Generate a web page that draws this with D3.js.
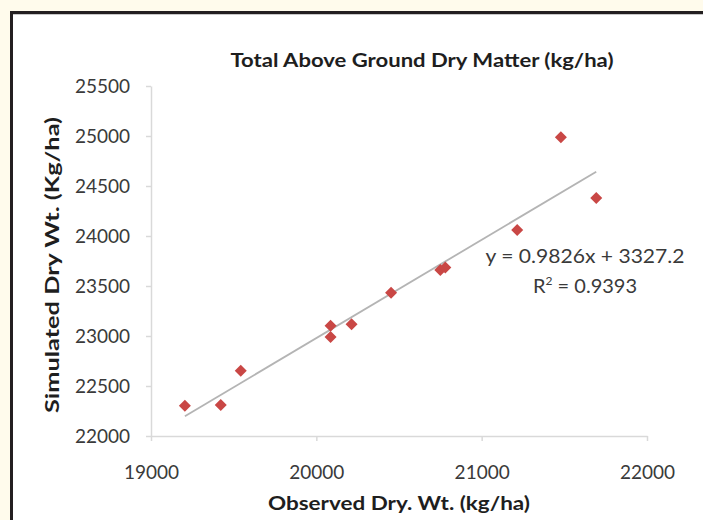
<!DOCTYPE html>
<html lang="en">
  <head>
    <meta charset="UTF-8" />
    <title>Total Above Ground Dry Matter</title>
    <script src="https://d3js.org/d3.v7.min.js" charset="utf-8"></script>
    <style>
      body { margin: 0; background: #fffbec; }
      svg text { font-family: Lato, "Liberation Sans", sans-serif; }
    </style>
  </head>
  <body>
    <div id="chart"></div>
    <script>
      // observed (x) vs simulated (y), kg/ha
      const observed = [19205, 19422, 19543, 20086, 20086, 20213, 20452, 20750, 20780, 21215, 21479, 21693];
      const simulated = [22303, 22310, 22653, 22990, 23103, 23117, 23433, 23660, 23685, 24060, 24987, 24380];
      const xTicks = [19000, 20000, 21000, 22000];
      const yTicks = [22000, 22500, 23000, 23500, 24000, 24500, 25000, 25500];
      const slope = 0.9826;
      const intercept = 3327.2;
      const r2 = 0.9393;

      const width = 703;
      const height = 520;

      const svg = d3.select("#chart")
        .append("svg")
        .attr("width", width)
        .attr("height", height);

      // cream page + white panel with dark frame on top/left
      svg.append("rect")
        .attr("width", width).attr("height", height)
        .attr("fill", "#fffbec");
      svg.append("rect")
        .attr("x", 10).attr("y", 11)
        .attr("width", width - 10).attr("height", height - 11)
        .attr("fill", "#231f20");
      svg.append("rect")
        .attr("x", 13).attr("y", 14)
        .attr("width", width - 13).attr("height", height - 14)
        .attr("fill", "#c8c8c8");
      svg.append("rect")
        .attr("x", 13).attr("y", 15)
        .attr("width", width - 13).attr("height", height - 15)
        .attr("fill", "#ffffff");

      const x = d3.scaleLinear().domain([19000, 22000]).range([151, 647]);
      const y = d3.scaleLinear().domain([22000, 25500]).range([436, 86]);

      const xAxis = d3.axisBottom(x)
        .tickValues(xTicks)
        .tickSize(5)
        .tickPadding(25)
        .tickSizeOuter(0)
        .tickFormat(d3.format("d"));

      const yAxis = d3.axisLeft(y)
        .tickValues(yTicks)
        .tickSize(5)
        .tickPadding(16)
        .tickSizeOuter(0)
        .tickFormat(d3.format("d"));

      const gx = svg.append("g")
        .attr("transform", "translate(0," + y(22000) + ")")
        .call(xAxis);
      const gy = svg.append("g")
        .attr("transform", "translate(" + x(19000) + ",0)")
        .call(yAxis);

      [gx, gy].forEach(g => {
        g.select(".domain").attr("stroke", "#d9d9d9").attr("stroke-width", 1.5);
        g.selectAll(".tick line").attr("stroke", "#d9d9d9").attr("stroke-width", 1.5);
        g.selectAll(".tick text")
          .attr("fill", "#3a3a3a")
          .style("font-size", "19px");
      });

      // trendline over the observed range
      const xMin = d3.min(observed);
      const xMax = d3.max(observed);
      svg.append("line")
        .attr("x1", x(xMin)).attr("y1", y(slope * xMin + intercept))
        .attr("x2", x(xMax)).attr("y2", y(slope * xMax + intercept))
        .attr("stroke", "#b4b4b4")
        .attr("stroke-width", 1.8);

      // diamond markers
      const diamond = d3.symbol().type(d3.symbolDiamond2).size(92);
      svg.selectAll("path.pt")
        .data(observed)
        .enter()
        .append("path")
        .attr("class", "pt")
        .attr("d", diamond)
        .attr("transform", (d, i) => "translate(" + x(d) + "," + y(simulated[i]) + ")")
        .attr("fill", "#c94745");

      // equation label
      const eq = svg.append("text")
        .attr("text-anchor", "middle")
        .attr("fill", "#3a3a3a")
        .style("font-size", "20px");
      eq.append("tspan").attr("x", 585).attr("y", 263)
        .attr("textLength", 199).attr("lengthAdjust", "spacingAndGlyphs")
        .text("y = " + slope + "x + " + intercept);
      const r2Line = eq.append("tspan").attr("x", 585).attr("y", 293);
      r2Line.append("tspan").text("R");
      r2Line.append("tspan").attr("dy", -8).style("font-size", "12px").text("2");
      r2Line.append("tspan").attr("dy", 8).text(" = " + r2);

      svg.append("text")
        .attr("x", 422).attr("y", 67)
        .attr("text-anchor", "middle")
        .attr("font-weight", "bold")
        .attr("fill", "#1e1e1e")
        .style("font-size", "18px")
        .attr("textLength", 383).attr("lengthAdjust", "spacingAndGlyphs")
        .text("Total Above Ground Dry Matter (kg/ha)");

      svg.append("text")
        .attr("x", 399).attr("y", 510)
        .attr("text-anchor", "middle")
        .attr("font-weight", "bold")
        .attr("fill", "#1e1e1e")
        .style("font-size", "18px")
        .attr("textLength", 262).attr("lengthAdjust", "spacingAndGlyphs")
        .text("Observed Dry. Wt. (kg/ha)");

      svg.append("text")
        .attr("transform", "translate(59,265) rotate(-90)")
        .attr("text-anchor", "middle")
        .attr("font-weight", "bold")
        .attr("fill", "#1e1e1e")
        .style("font-size", "18px")
        .attr("textLength", 296).attr("lengthAdjust", "spacingAndGlyphs")
        .text("Simulated Dry Wt. (Kg/ha)");
    </script>
  </body>
</html>
